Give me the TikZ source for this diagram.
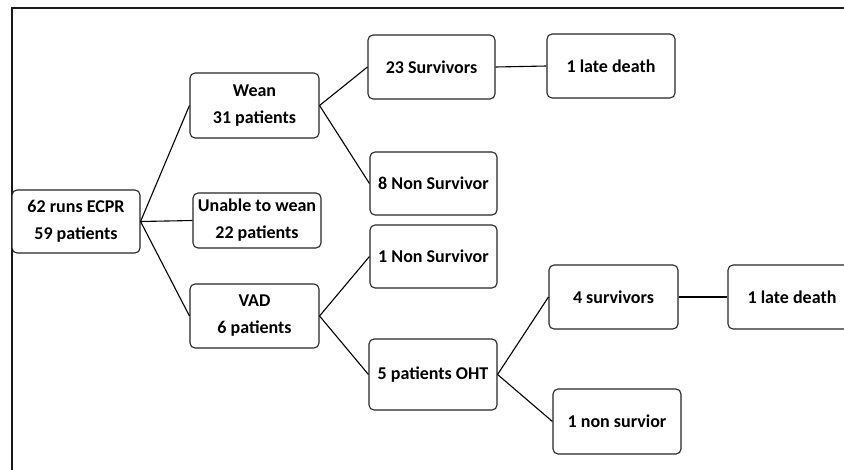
\documentclass[tikz,border=0pt]{standalone}
\usepackage{fontspec}
\setmainfont{Carlito}
\begin{document}
\begin{tikzpicture}[x=1pt,y=-1pt,
  box/.style={draw=black!85, line width=1.1pt, rounded corners=5pt, fill=white,
    align=center, inner sep=0pt, font=\fontsize{18}{27}\selectfont\bfseries},
  link/.style={draw=black, line width=1.1pt}]
\useasboundingbox (0,0) rectangle (844,469);
\clip (0,0) rectangle (844,469);
\fill[white] (0,0) rectangle (844,469);
\draw[line width=2pt, black!90] (11.5,470) -- (11.5,7.5) -- (845,7.5);
\node[box, minimum width=128pt, minimum height=63pt] (root) at (76,221.5) {62 runs ECPR\\59 patients};
\node[box, minimum width=129pt, minimum height=65pt] (wean) at (254.5,105.5) {Wean\\31 patients};
\node[box, minimum width=128pt, minimum height=55pt] (unable) at (257,220.5) {Unable to wean\\22 patients};
\node[box, minimum width=129pt, minimum height=64pt] (vad) at (254.5,316) {VAD\\6 patients};
\node[box, minimum width=127pt, minimum height=64pt] (s23) at (431.5,67) {23 Survivors};
\node[box, minimum width=128pt, minimum height=64pt] (ld1) at (611,66) {1 late death};
\node[box, minimum width=127pt, minimum height=63pt] (ns8) at (433.5,183.5) {8 Non Survivor};
\node[box, minimum width=127pt, minimum height=63pt] (ns1) at (433.5,256.5) {1 Non Survivor};
\node[box, minimum width=128pt, minimum height=71pt] (oht) at (433,374.5) {5 patients OHT};
\node[box, minimum width=129pt, minimum height=64pt] (s4) at (613.5,297) {4 survivors};
\node[box, minimum width=128pt, minimum height=64pt] (ld2) at (792,297) {1 late death};
\node[box, minimum width=128pt, minimum height=65pt] (nsv) at (617,421.5) {1 non survior};
\draw[link] (root.east) -- (wean.west);
\draw[link] (root.east) -- (unable.west);
\draw[link] (root.east) -- (vad.west);
\draw[link] (wean.east) -- (s23.west);
\draw[link] (wean.east) -- (ns8.west);
\draw[link] (s23.east) -- (ld1.west);
\draw[link] (vad.east) -- (ns1.west);
\draw[link] (vad.east) -- (oht.west);
\draw[link] (oht.east) -- (s4.west);
\draw[link] (oht.east) -- (nsv.west);
\draw[link] (s4.east) -- (ld2.west);
\end{tikzpicture}
\end{document}
